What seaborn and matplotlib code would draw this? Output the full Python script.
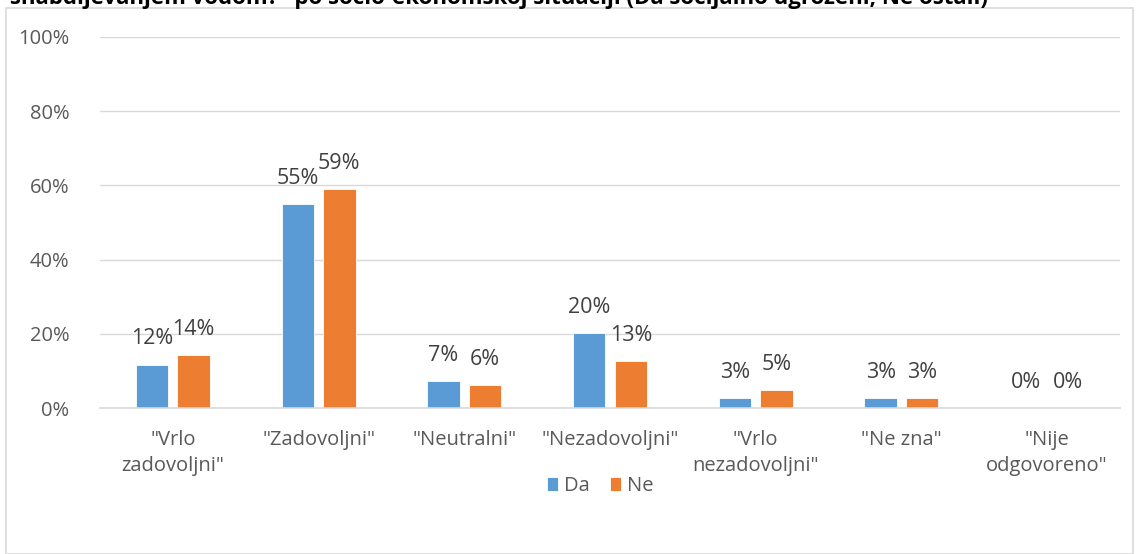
import matplotlib
matplotlib.use("Agg")
import matplotlib.pyplot as plt
import seaborn as sns
import pandas as pd
from matplotlib.patches import Rectangle
from matplotlib.ticker import FuncFormatter

categories = ['"Vrlo\nzadovoljni"', '"Zadovoljni"', '"Neutralni"', '"Nezadovoljni"',
              '"Vrlo\nnezadovoljni"', '"Ne zna"', '"Nije\nodgovoreno"']
series_names = ["Da", "Ne"]
da_values = [11.7, 55.0, 7.2, 20.2, 2.7, 2.7, 0.0]
ne_values = [14.3, 58.9, 6.2, 12.6, 4.8, 2.7, 0.0]
y_ticks = [0, 20, 40, 60, 80, 100]
title = '"snabdijevanjem vodom?" po socio-ekonomskoj situaciji (Da socijalno ugroženi, Ne ostali)'

df = pd.DataFrame({
    "cat": categories * 2,
    "series": [series_names[0]] * len(categories) + [series_names[1]] * len(categories),
    "value": da_values + ne_values,
})

sns.set_theme(style="white")
plt.rcParams['font.family'] = ['Open Sans', 'DejaVu Sans']
TXT = "#595959"

W, H = 1139, 554
fig = plt.figure(figsize=(W / 100, H / 100), dpi=100)
ax = fig.add_axes([100 / W, 1 - 408 / H, 1020 / W, (408 - 37) / H])

sns.barplot(data=df, x="cat", y="value", hue="series", order=categories,
            hue_order=series_names, palette=["#5b9bd5", "#ed7d31"],
            saturation=1, width=0.57, gap=0.22, ax=ax, edgecolor="white",
            linewidth=0.6, legend=True)

for cont, vals in zip(ax.containers, [da_values, ne_values]):
    ax.bar_label(cont, labels=[f"{v:.0f}%" for v in vals], padding=11,
                 fontsize=15.5, color="#404040")

ax.set_ylim(0, 100)
ax.set_xlim(-0.5, len(categories) - 0.5)
ax.set_yticks(y_ticks)
ax.yaxis.set_major_formatter(FuncFormatter(lambda v, p: f"{v:.0f}%"))
ax.grid(axis="y", color="#d9d9d9", linewidth=1)
ax.set_axisbelow(True)
for s in ["top", "right", "left"]:
    ax.spines[s].set_visible(False)
ax.spines["bottom"].set_color("#d9d9d9")
ax.spines["bottom"].set_linewidth(1.2)
ax.tick_params(axis="both", length=0, labelsize=14.5, colors=TXT)
ax.tick_params(axis="y", pad=22)
ax.tick_params(axis="x", pad=16)
ax.set_xlabel("")
ax.set_ylabel("")
for t in ax.get_xticklabels():
    t.set_linespacing(1.4)

ax.legend(loc="center", bbox_to_anchor=(600 / W, 1 - 486 / H),
          bbox_transform=fig.transFigure, ncol=2, frameon=False,
          fontsize=14.5, handlelength=0.55, handleheight=0.7,
          handletextpad=0.3, columnspacing=1.0, labelcolor=TXT)

fig.patches.append(Rectangle((6 / W, 0), (1133 - 6) / W, 1 - 8 / H,
                             transform=fig.transFigure, fill=False,
                             edgecolor="#d9d9d9", linewidth=1.2))
fig.text(0 / W, 1 - 4 / H, title, ha="left", va="baseline",
         fontsize=16, fontweight="bold", color="black")

fig.savefig("out.png", dpi=100)
